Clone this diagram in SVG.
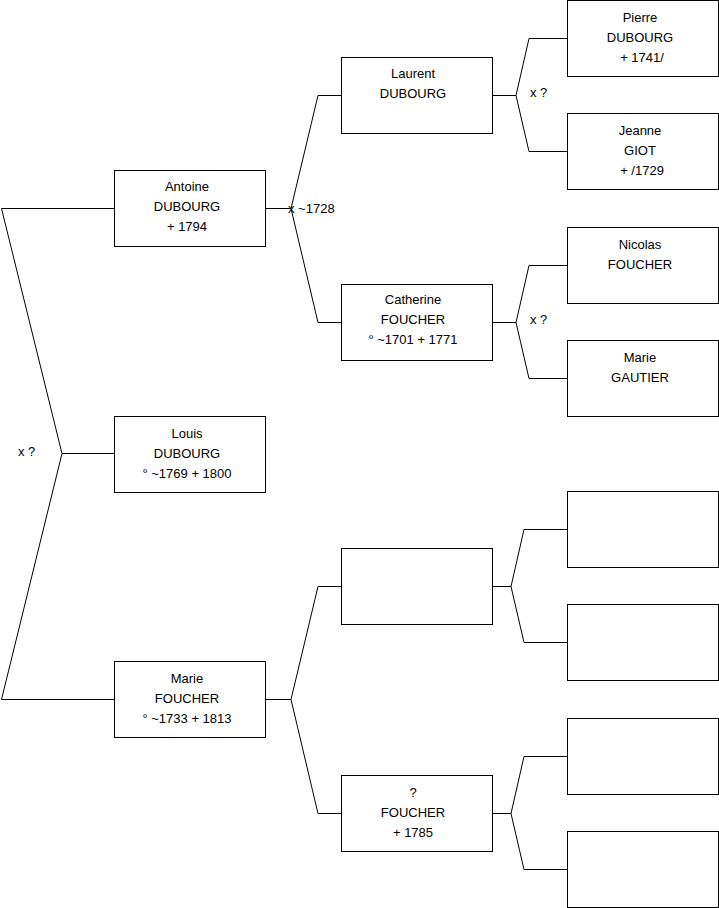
<svg xmlns="http://www.w3.org/2000/svg" width="719" height="908" viewBox="0 0 719 908">
<style>
.box{fill:#fff;stroke:#000;stroke-width:1}
.t{font-family:"Liberation Sans",Arial,sans-serif;font-size:13px;fill:#000;text-anchor:middle}
.l{font-family:"Liberation Sans",Arial,sans-serif;font-size:13px;fill:#000}
.c{fill:none;stroke:#000;stroke-width:1}
</style>
<rect width="719" height="908" fill="#fff"/>
<g id="connectors">
<path class="c" d="M114,208.5 H1.5 L62,453.5 L1.5,699.5 H114 M62,453.5 H114"/>
<path class="c" d="M265,208.5 H291 M318,95.5 H341 L318,95.5 L291,208.5 L318,322.5 H341"/>
<path class="c" d="M265,699.5 H291 M341,586.5 H318 L291,699.5 L318,813.5 H341"/>
<path class="c" d="M492,95.5 H516 M567,38.5 H529 L516,95.5 L529,151.5 H567"/>
<path class="c" d="M492,322.5 H516 M567,265.5 H529 L516,322.5 L529,378.5 H567"/>
<path class="c" d="M492,586.5 H511 M567,529.5 H524 L511,586.5 L524,642.5 H567"/>
<path class="c" d="M492,813.5 H511 M567,756.5 H524 L511,813.5 L524,869.5 H567"/>
<text class="l" x="288" y="212.5">x ~1728</text>
<text class="l" x="530" y="96.5">x ?</text>
<text class="l" x="530" y="323.5">x ?</text>
<text class="l" x="18" y="455.5">x ?</text>
</g>
<g id="antoine"><rect class="box" x="114.5" y="170.5" width="151" height="76"/><text class="t" x="187" y="191">Antoine</text><text class="t" x="187" y="211">DUBOURG</text><text class="t" x="187" y="231">+ 1794</text></g>
<g id="louis"><rect class="box" x="114.5" y="416.5" width="151" height="76"/><text class="t" x="187" y="438">Louis</text><text class="t" x="187" y="458">DUBOURG</text><text class="t" x="187" y="478">° ~1769 + 1800</text></g>
<g id="marie-foucher"><rect class="box" x="114.5" y="661.5" width="151" height="76"/><text class="t" x="187" y="683">Marie</text><text class="t" x="187" y="703">FOUCHER</text><text class="t" x="187" y="723">° ~1733 + 1813</text></g>
<g id="laurent"><rect class="box" x="341.5" y="57.5" width="151" height="76"/><text class="t" x="413" y="78">Laurent</text><text class="t" x="413" y="98">DUBOURG</text></g>
<g id="catherine"><rect class="box" x="341.5" y="284.5" width="151" height="76"/><text class="t" x="413" y="304">Catherine</text><text class="t" x="413" y="324">FOUCHER</text><text class="t" x="413" y="344">° ~1701 + 1771</text></g>
<g id="unknown-father"><rect class="box" x="341.5" y="548.5" width="151" height="76"/></g>
<g id="unknown-foucher"><rect class="box" x="341.5" y="775.5" width="151" height="76"/><text class="t" x="413" y="797">?</text><text class="t" x="413" y="817">FOUCHER</text><text class="t" x="413" y="837">+ 1785</text></g>
<g id="pierre"><rect class="box" x="567.5" y="0.5" width="151" height="76"/><text class="t" x="640" y="22">Pierre</text><text class="t" x="640" y="42">DUBOURG</text><text class="t" x="642" y="62">+ 1741/</text></g>
<g id="jeanne"><rect class="box" x="567.5" y="113.5" width="151" height="76"/><text class="t" x="640" y="135">Jeanne</text><text class="t" x="640" y="155">GIOT</text><text class="t" x="642" y="175">+ /1729</text></g>
<g id="nicolas"><rect class="box" x="567.5" y="227.5" width="151" height="76"/><text class="t" x="640" y="249">Nicolas</text><text class="t" x="640" y="269">FOUCHER</text></g>
<g id="marie-gautier"><rect class="box" x="567.5" y="340.5" width="151" height="76"/><text class="t" x="640" y="362">Marie</text><text class="t" x="640" y="382">GAUTIER</text></g>
<g id="empty1"><rect class="box" x="567.5" y="491.5" width="151" height="76"/></g>
<g id="empty2"><rect class="box" x="567.5" y="604.5" width="151" height="76"/></g>
<g id="empty3"><rect class="box" x="567.5" y="718.5" width="151" height="76"/></g>
<g id="empty4"><rect class="box" x="567.5" y="831.5" width="151" height="76"/></g>
</svg>
